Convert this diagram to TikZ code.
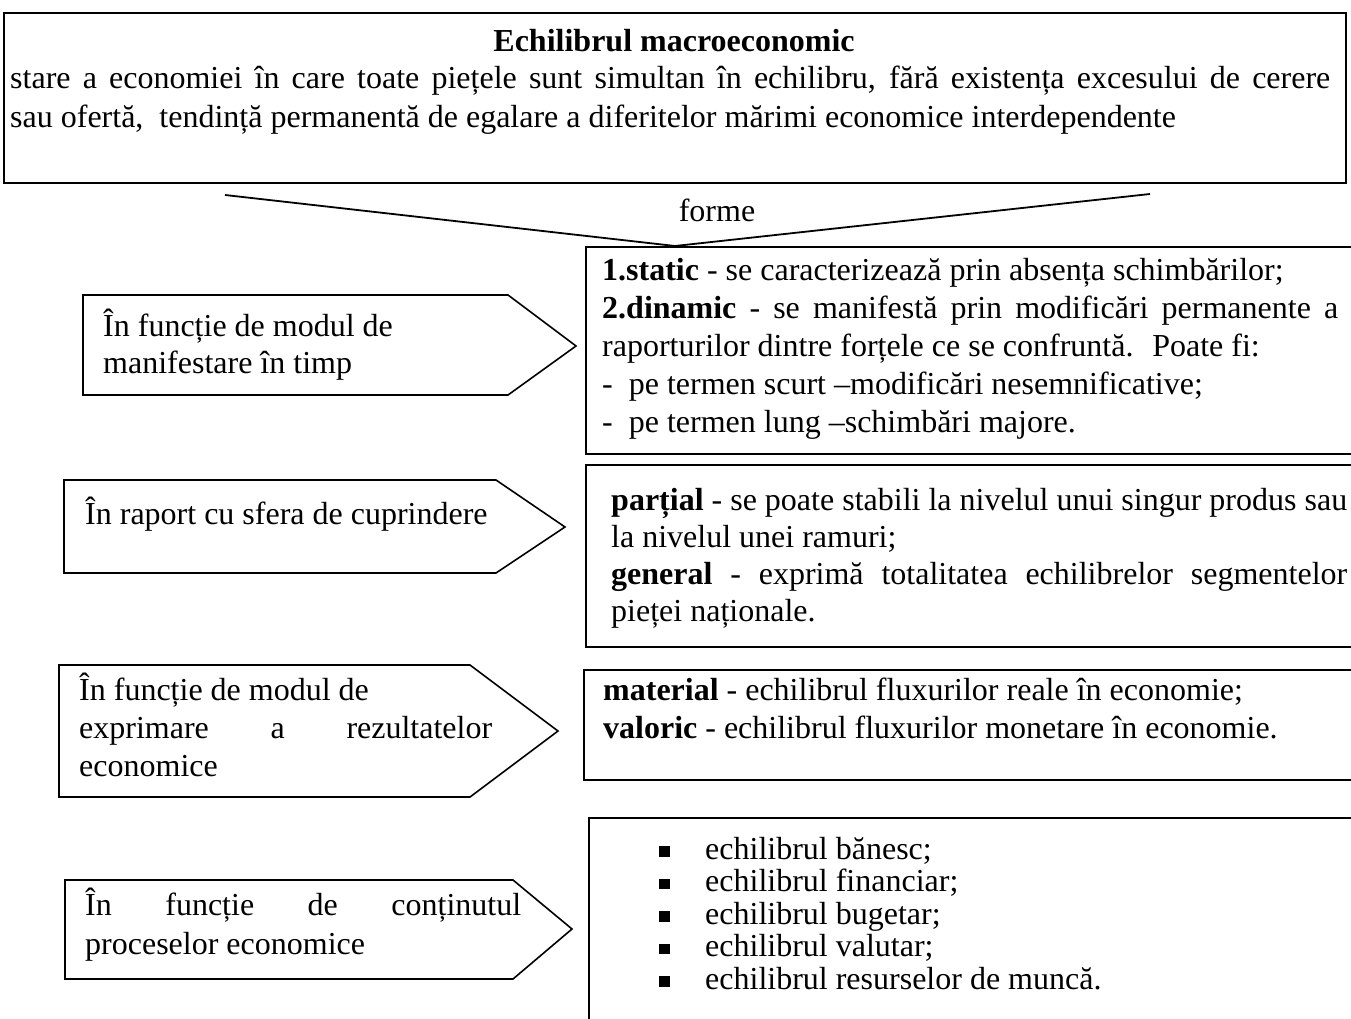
\documentclass[tikz,border=0pt]{standalone}
\usepackage{fontspec}
\setmainfont{Liberation Serif}
\newcommand\fz{\fontsize{32}{38}\selectfont}
\newcommand\fzs[1]{\fontsize{32}{#1}\selectfont}
\newcommand\tst{\rule{0pt}{30pt}}
\newcommand\blt{\makebox[45pt][l]{\hspace*{-1pt}\raisebox{2.5pt}{\rule{10.5pt}{10.5pt}}}}
\begin{document}
\begin{tikzpicture}[x=1pt,y=-1pt,
  frame/.style={draw, line width=1.6pt, inner sep=0pt, anchor=north west},
  shp/.style={draw, line width=1.6pt, line join=miter},
  vline/.style={draw, line width=1.8pt},
  txt/.style={inner sep=0pt, anchor=north west, align=left, font=\fz},
  lbl/.style={inner sep=0pt, anchor=base, font=\fz}]
\useasboundingbox (0,0) rectangle (1351,1019);
\clip (0,0) rectangle (1351,1019);

% top box
\node[frame, minimum width=1342pt, minimum height=170pt] (top) at (3,12) {};
\node[lbl, font=\fz\bfseries] (title) at (674,52) {Echilibrul macroeconomic};
\node[txt] (deftext) at (10,58) {\tst\makebox[1320pt][s]{stare a economiei în care toate piețele sunt simultan în echilibru, fără existența excesului de cerere}\\[1pt]
sau ofertă,~ tendință permanentă de egalare a diferitelor mărimi economice interdependente};

% V connector
\coordinate (vl) at (225,195);
\coordinate (vr) at (1150,194);
\coordinate (apex) at (675,246);
\draw[vline] (vl) -- (apex) -- (vr);
\node[lbl] (forme) at (717,221) {forme};

% right boxes
\node[frame, minimum width=780pt, minimum height=207pt] (b1) at (585,246) {};
\node[frame, minimum width=780pt, minimum height=182pt] (b2) at (585,464) {};
\node[frame, minimum width=780pt, minimum height=110pt] (b3) at (583,669) {};
\node[frame, minimum width=780pt, minimum height=220pt] (b4) at (588,817) {};

\node[txt] (b1t) at (602,250) {\tst\textbf{1.static} - se caracterizează prin absența schimbărilor;\\
\makebox[736pt][s]{\textbf{2.dinamic} - se manifestă prin modificări permanente a}\\
raporturilor dintre forțele ce se confruntă.~ Poate fi:\\
-~ pe termen scurt –modificări nesemnificative;\\
-~ pe termen lung –schimbări majore.};

\node[txt, font=\fzs{37}] (b2t) at (611,480) {\tst\makebox[736pt][s]{\textbf{parțial} - se poate stabili la nivelul unui singur produs sau}\\
la nivelul unei ramuri;\\
\makebox[736pt][s]{\textbf{general} - exprimă totalitatea echilibrelor segmentelor}\\
pieței naționale.};

\node[txt] (b3t) at (603,670) {\tst\textbf{material} - echilibrul fluxurilor reale în economie;\\
\textbf{valoric} - echilibrul fluxurilor monetare în economie.};

\node[txt, font=\fzs{32.5}] (b4t) at (660,829) {\tst\blt echilibrul bănesc;\\
\blt echilibrul financiar;\\
\blt echilibrul bugetar;\\
\blt echilibrul valutar;\\
\blt echilibrul resurselor de muncă.};

% left arrow shapes
\draw[shp] (83,295) coordinate (a1) -- (508,295) -- (576,346) coordinate (a1tip) -- (508,395) -- (83,395) -- cycle;
\draw[shp] (64,480) coordinate (a2) -- (496,480) -- (565,527) coordinate (a2tip) -- (496,573) -- (64,573) -- cycle;
\draw[shp] (59,665) coordinate (a3) -- (470,665) -- (558,731) coordinate (a3tip) -- (470,797) -- (59,797) -- cycle;
\draw[shp] (65,880) coordinate (a4) -- (513,880) -- (572,929) coordinate (a4tip) -- (513,979) -- (65,979) -- cycle;

\node[txt, font=\fzs{37}] (a1t) at (103,306) {\tst În funcție de modul de\\ manifestare în timp};
\node[txt] (a2t) at (85,494) {\tst În raport cu sfera de cuprindere};
\node[txt] (a3t) at (79,670) {\tst În funcție de modul de\\
\makebox[413pt][s]{exprimare a rezultatelor}\\
economice};
\node[txt, font=\fzs{39}] (a4t) at (85,885) {\tst\makebox[436pt][s]{În funcție de conținutul}\\
proceselor economice};
\end{tikzpicture}
\end{document}
